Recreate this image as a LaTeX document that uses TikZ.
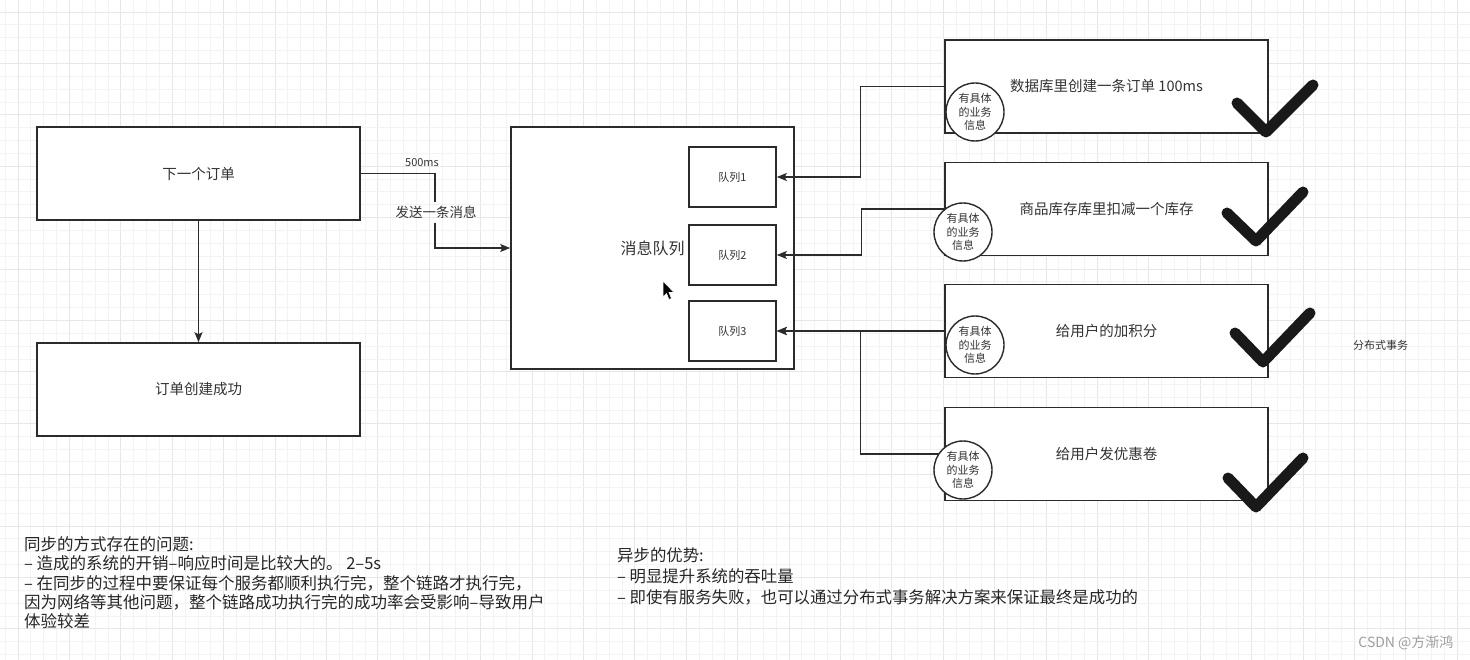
\documentclass[tikz,border=0pt]{standalone}
\usepackage{fontspec}
\setmainfont{Noto Sans CJK SC}
\usetikzlibrary{arrows.meta}
\definecolor{ink}{HTML}{2B2B2B}
\definecolor{txt}{HTML}{333333}
\definecolor{gmin}{HTML}{F3F3F3}
\definecolor{gmaj}{HTML}{E7E7E7}
\begin{document}
\begin{tikzpicture}[x=1pt,y=-1pt,
  box/.style={draw=ink, line width=1.6pt, fill=white, inner sep=0pt, text=txt, font=\fontsize{14.5}{17}\selectfont},
  bigbox/.style={box, minimum width=323pt, minimum height=93pt},
  qbox/.style={box, minimum width=87pt, minimum height=60pt, font=\fontsize{11}{13}\selectfont},
  info/.style={circle, draw=ink, line width=1.4pt, fill=white, minimum size=58pt, inner sep=0pt, align=center, text=txt, font=\fontsize{11}{13.5}\selectfont},
  conn/.style={draw=ink, line width=1.4pt},
  arr/.style={conn, -{Stealth[length=10pt,width=8pt,inset=2pt]}},
  tick/.style={draw=black!90, line width=11pt, line cap=round, line join=round},
  note/.style={anchor=north west, inner sep=0pt, align=left, text=black!85},
]
\useasboundingbox (0,0) rectangle (1470,660);
\fill[white] (0,0) rectangle (1470,660);
% grid
\foreach \i in {-1,...,113} {
  \pgfmathtruncatemacro{\m}{mod(\i+4,4)}
  \ifnum\m=0 \draw[gmaj, line width=0.9pt] (18+\i*12.85,0) -- (18+\i*12.85,660);
  \else \draw[gmin, line width=0.8pt] (18+\i*12.85,0) -- (18+\i*12.85,660); \fi
}
\foreach \i in {-1,...,51} {
  \pgfmathtruncatemacro{\m}{mod(\i+4,4)}
  \ifnum\m=0 \draw[gmaj, line width=0.9pt] (0,12+\i*12.85) -- (1470,12+\i*12.85);
  \else \draw[gmin, line width=0.8pt] (0,12+\i*12.85) -- (1470,12+\i*12.85); \fi
}

% left boxes
\node[bigbox] (order) at (198.5,173.5) {下一个订单};
\node[bigbox] (done) at (198.5,389.5) {订单创建成功};
% message queue
\node[box, minimum width=283pt, minimum height=242pt, font=\fontsize{16}{19}\selectfont] (mq) at (652.5,248) {消息队列};
\node[qbox] (q1) at (732.5,177) {队列1};
\node[qbox] (q2) at (732.5,255) {队列2};
\node[qbox] (q3) at (732.5,331) {队列3};
% right boxes
\node[bigbox] (b1) at (1106.5,86.5) {数据库里创建一条订单 100ms};
\node[bigbox] (b2) at (1106.5,209) {商品库存库里扣减一个库存};
\node[bigbox] (b3) at (1106.5,331) {给用户的加积分};
\node[bigbox] (b4) at (1106.5,454) {给用户发优惠卷};

% connectors
\draw[arr] (order.south) -- (done.north);
\coordinate (g1) at (435,202);
\coordinate (g2) at (435,223);
\draw[conn] (order.east) -| (g1);
\draw[arr] (g2) |- (mq.west);
\node[text=txt, font=\fontsize{11}{13}\selectfont] (t500) at (422,163) {500ms};
\node[text=txt, font=\fontsize{13.5}{16}\selectfont] (tsend) at (436,212) {发送一条消息};

\draw[arr] (b1.west) -- ++(-84,0) |- (q1.east);
\draw[arr] (b2.west) -- ++(-83,0) |- (q2.east);
\draw[arr] (b3.west) -- (q3.east);
\draw[arr] (b4.west) -- ++(-84,0) |- (q3.east);

% info circles
\node[info] (c1) at (975,112) {有具体\\的业务\\信息};
\node[info] (c2) at (963,232) {有具体\\的业务\\信息};
\node[info] (c3) at (975,345) {有具体\\的业务\\信息};
\node[info] (c4) at (963,470) {有具体\\的业务\\信息};

% check marks
\draw[tick] (1237,103) -- (1266,132) -- (1313,85);
\draw[tick] (1227,213) -- (1256,241) -- (1303,192);
\draw[tick] (1235,333) -- (1263,362) -- (1310,313);
\draw[tick] (1228,478) -- (1256,507) -- (1303,458);

\node[text=txt, font=\fontsize{11}{13}\selectfont] (dist) at (1380.5,345) {分布式事务};

% cursor
\filldraw[fill=black, draw=white, line width=0.6pt] (663,281) -- (663,297) -- (666.5,293.5) -- (669,299.5) -- (671.5,298.5) -- (669,292.5) -- (674,292.5) -- cycle;

% notes
\node[note, font=\fontsize{16.5}{19.3}\selectfont] (sync) at (24,536.5) {同步的方式存在的问题:\\– 造成的系统的开销–响应时间是比较大的。 2–5s\\– 在同步的过程中要保证每个服务都顺利执行完，整个链路才执行完，\\因为网络等其他问题，整个链路成功执行完的成功率会受影响–导致用户\\体验较差};
\node[note, font=\fontsize{16.4}{21}\selectfont] (async) at (617,547.5) {异步的优势:\\– 明显提升系统的吞吐量\\– 即使有服务失败，也可以通过分布式事务解决方案来保证最终是成功的};

\node[anchor=east, text=gray!75, font=\fontsize{14}{16}\selectfont] (wm) at (1457,643) {CSDN @方渐鸿};
\end{tikzpicture}
\end{document}
